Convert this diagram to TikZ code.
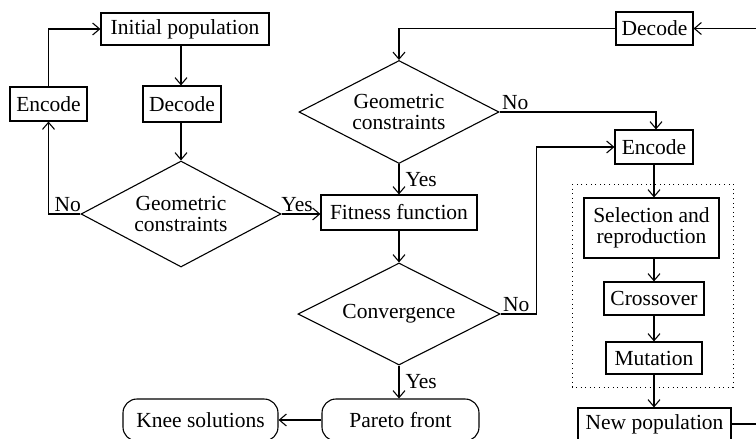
\documentclass[tikz,border=0pt]{standalone}
\usepackage{fontspec}
\setmainfont{Liberation Serif}
\usetikzlibrary{shapes.geometric,arrows.meta}
\tikzset{
  every node/.style={font=\fontsize{21.5}{21.5}\selectfont},
  box/.style={draw, line width=1.1pt, inner sep=0pt, align=center},
  dia/.style={draw, line width=1.1pt, shape=diamond, aspect=2, inner sep=0pt, align=center},
  term/.style={draw, line width=1.1pt, rounded corners=14pt, inner sep=0pt, align=center},
  conn/.style={line width=1.1pt, -{Straight Barb[length=7pt,width=12pt,line width=1.1pt]}},
  plain/.style={line width=1.1pt},
  lbl/.style={inner sep=2pt}
}
\begin{document}
\begin{tikzpicture}[x=1pt,y=-1pt]
\useasboundingbox (0,0) rectangle (756,439);
\clip (0,0) rectangle (756,439);
% nodes
\node[box, minimum width=168pt, minimum height=32pt] (init) at (185,29) {Initial population};
\node[box, minimum width=77pt, minimum height=34pt] (encL) at (48.5,104) {Encode};
\node[box, minimum width=78pt, minimum height=36pt] (decL) at (182,104) {Decode};
\node[dia, minimum width=200pt, minimum height=106pt] (geoL) at (181,214) {Geometric\\constraints};
\node[box, minimum width=156pt, minimum height=35pt] (fit) at (399,212.5) {Fitness function};
\node[dia, minimum width=200pt, minimum height=103pt] (geoT) at (399,112) {Geometric\\constraints};
\node[dia, minimum width=202pt, minimum height=102pt] (conv) at (399,314) {Convergence};
\node[term, minimum width=157pt, minimum height=42pt] (pareto) at (400.5,420) {Pareto front};
\node[term, minimum width=155pt, minimum height=42pt] (knee) at (200.5,420) {Knee solutions};
\node[box, minimum width=77pt, minimum height=33pt] (decR) at (654.5,28.5) {Decode};
\node[box, minimum width=78pt, minimum height=34pt] (encR) at (654,147) {Encode};
\node[box, minimum width=135pt, minimum height=60pt] (sel) at (651.5,228) {Selection and\\reproduction};
\node[box, minimum width=100pt, minimum height=33pt] (cross) at (654,298.5) {Crossover};
\node[box, minimum width=96pt, minimum height=32pt] (mut) at (654,358) {Mutation};
\node[box, minimum width=153pt, minimum height=32pt] (newp) at (654.5,424) {New population};
\draw[line width=1pt, dash pattern=on 1pt off 3.6pt] (572,184) rectangle (733,387);
\coordinate (rin) at (756,28.5);
\coordinate (rout) at (756,424);
% connectors
\draw[conn] (init.south -| 181,0) -- (decL.north -| 181,0);
\draw[conn] (decL.south -| 181,0) -- (geoL.north);
\draw[conn] (geoL.west) -- node[lbl, above, pos=0.4] {No} (encL.south |- geoL.west) -- (encL.south);
\draw[conn] (encL.north) |- (init.west);
\draw[conn] (geoL.east) -- node[lbl, above, pos=0.4] {Yes} (fit.west |- geoL.east);
\draw[conn] (rin) -- (decR.east);
\draw[conn] (decR.west) -| (geoT.north);
\draw[conn] (geoT.south) -- node[lbl, right, inner sep=6pt] {Yes} (fit.north -| geoT.south);
\draw[conn] (geoT.east) -- node[lbl, above right, pos=0] {No} (geoT.east -| 656,0) -- (encR.north -| 656,0);
\draw[conn] (fit.south -| conv.north) -- (conv.north);
\draw[conn] (conv.east) -- node[lbl, above right, pos=0] {No} ++(36,0) |- (encR.west);
\draw[conn] (conv.south) -- node[lbl, right, inner sep=6pt] {Yes} (pareto.north -| conv.south);
\draw[conn] (pareto.west) -- (knee.east);
\draw[conn] (encR.south) -- (sel.north -| encR.south);
\draw[conn] (sel.south -| encR.south) -- (cross.north -| encR.south);
\draw[conn] (cross.south) -- (mut.north);
\draw[conn] (mut.south) -- (newp.north -| mut.south);
\draw[plain] (newp.east) -- (rout);
\end{tikzpicture}
\end{document}
